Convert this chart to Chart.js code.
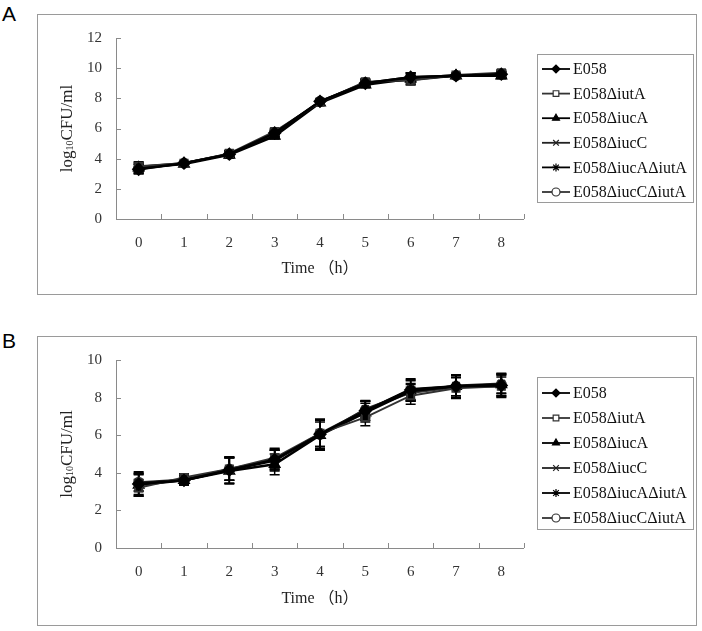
<!DOCTYPE html>
<html>
<head>
<meta charset="utf-8">
<script src="https://cdn.jsdelivr.net/npm/chart.js@4.4.0/dist/chart.umd.min.js"></script>
<style>
  body { margin: 0; background: #fff; width: 702px; height: 631px; position: relative; overflow: hidden; }
  .frame { position: absolute; border: 1px solid #9a9a9a; }
  .frame canvas { position: absolute; left: 0; top: 0; }
  .letter { position: absolute; font-family: "Liberation Sans", Arial, sans-serif; font-size: 21px; color: #000; }
</style>
</head>
<body>
<div class="letter" style="left:2px; top:2px;">A</div>
<div class="frame" style="left:37px; top:14px; width:658px; height:279px;"><canvas id="chartA" width="658" height="279"></canvas></div>
<div class="letter" style="left:2px; top:329px;">B</div>
<div class="frame" style="left:37px; top:336px; width:658px; height:288px;"><canvas id="chartB" width="658" height="288"></canvas></div>
<script>
// time points (h)
const hours = ['0', '1', '2', '3', '4', '5', '6', '7', '8'];
const strains = ['E058', 'E058\u0394iutA', 'E058\u0394iucA', 'E058\u0394iucC', 'E058\u0394iucA\u0394iutA', 'E058\u0394iucC\u0394iutA'];

// panel A, log10 CFU/ml (mean) and SD
const aE058     = [3.3, 3.7, 4.3, 5.7, 7.8, 9.0, 9.4, 9.5, 9.6];
const aIutA     = [3.5, 3.7, 4.35, 5.8, 7.75, 9.1, 9.2, 9.55, 9.7];
const aIucA     = [3.4, 3.65, 4.25, 5.5, 7.7, 8.9, 9.3, 9.5, 9.5];
const aIucC     = [3.3, 3.7, 4.3, 5.6, 7.8, 9.0, 9.35, 9.55, 9.55];
const aIucAIutA = [3.45, 3.7, 4.3, 5.65, 7.75, 9.0, 9.4, 9.5, 9.6];
const aIucCIutA = [3.35, 3.7, 4.3, 5.7, 7.8, 9.05, 9.2, 9.5, 9.6];
const aErr      = [0.3, 0.1, 0.2, 0.2, 0.15, 0.2, 0.3, 0.12, 0.2];

// panel B
const bE058     = [3.4, 3.6, 4.15, 4.7, 6.05, 7.3, 8.4, 8.6, 8.65];
const bIutA     = [3.2, 3.75, 4.2, 4.8, 6.1, 6.95, 8.1, 8.5, 8.6];
const bIucA     = [3.35, 3.6, 4.1, 4.45, 6.0, 7.2, 8.35, 8.6, 8.7];
const bIucC     = [3.45, 3.6, 4.2, 4.7, 6.0, 7.4, 8.3, 8.65, 8.75];
const bIucAIutA = [3.45, 3.6, 4.15, 4.65, 6.05, 7.3, 8.45, 8.6, 8.6];
const bIucCIutA = [3.5, 3.65, 4.2, 4.7, 6.1, 7.35, 8.25, 8.55, 8.7];
const bErr      = [0.6, 0.25, 0.7, 0.55, 0.8, 0.5, 0.55, 0.6, 0.6];
const bErr2     = [0.45, 0.2, 0.6, 0.5, 0.7, 0.45, 0.45, 0.55, 0.5];

const serif = '"Liberation Serif", "Times New Roman", "Noto Sans CJK SC", serif';

// marker look for each strain
const looks = [
    { pointStyle: 'rectRot', radius: 5.5, fill: '#000', line: '#000', width: 2.5 },
    { pointStyle: 'rect', radius: 5, fill: '#000', line: '#333', width: 2 },
    { pointStyle: 'triangle', radius: 5.5, fill: '#000', line: '#000', width: 2.5 },
    { pointStyle: 'crossRot', radius: 5, fill: '#000', line: '#222', width: 2 },
    { pointStyle: 'star', radius: 5, fill: '#000', line: '#000', width: 2.5 },
    { pointStyle: 'circle', radius: 4.5, fill: '#000', line: '#333', width: 2 }
];
// legend shows the open symbols as in the original key
const legendFill = ['#000', '#fff', '#000', '#000', '#000', '#fff'];

function makeSets(seriesList, errList) {
    return seriesList.map((vals, i) => ({
        label: strains[i],
        data: vals,
        errors: errList[i],
        borderColor: looks[i].line,
        borderWidth: looks[i].width,
        pointStyle: looks[i].pointStyle,
        pointRadius: looks[i].radius,
        pointBackgroundColor: looks[i].fill,
        pointBorderColor: looks[i].line,
        pointBorderWidth: 2,
        tension: 0
    }));
}

const decor = {
    id: 'decor',
    beforeDatasetsDraw(chart) {
        const { ctx, chartArea: a, scales: { x, y } } = chart;
        ctx.save();
        // axis lines + inside tick marks
        ctx.strokeStyle = '#8a8a8a';
        ctx.lineWidth = 1;
        ctx.beginPath();
        ctx.moveTo(a.left + 0.5, a.top);
        ctx.lineTo(a.left + 0.5, a.bottom + 0.5);
        ctx.lineTo(a.right, a.bottom + 0.5);
        y.ticks.forEach(t => {
            const py = Math.round(y.getPixelForValue(t.value)) + 0.5;
            ctx.moveTo(a.left, py);
            ctx.lineTo(a.left + 5, py);
        });
        const n = hours.length;
        for (let i = 1; i <= n; i++) {
            const px = Math.round(a.left + i * (a.right - a.left) / n) + 0.5;
            ctx.moveTo(px, a.bottom);
            ctx.lineTo(px, a.bottom - 5);
        }
        ctx.stroke();

        // error bars
        ctx.strokeStyle = '#000';
        ctx.lineWidth = 1.5;
        chart.data.datasets.forEach((ds, di) => {
            const meta = chart.getDatasetMeta(di);
            meta.data.forEach((pt, i) => {
                const m = ds.data[i], e = ds.errors[i];
                const top = y.getPixelForValue(m + e);
                const bot = y.getPixelForValue(m - e);
                ctx.beginPath();
                ctx.moveTo(pt.x, top); ctx.lineTo(pt.x, bot);
                ctx.moveTo(pt.x - 5, top); ctx.lineTo(pt.x + 5, top);
                ctx.moveTo(pt.x - 5, bot); ctx.lineTo(pt.x + 5, bot);
                ctx.stroke();
            });
        });
        ctx.restore();
    },
    afterDraw(chart, args, opts) {
        const { ctx, chartArea: a } = chart;
        ctx.save();
        ctx.fillStyle = '#222';
        // x title
        ctx.font = '16px ' + serif;
        ctx.textAlign = 'center';
        ctx.textBaseline = 'middle';
        ctx.fillText('Time \uFF08h\uFF09', (a.left + a.right) / 2, a.bottom + opts.titleGap);

        // y title with subscript 10
        const big = '17px ' + serif, small = '10px ' + serif;
        ctx.font = big; const w1 = ctx.measureText('log').width; const w3 = ctx.measureText('CFU/ml').width;
        ctx.font = small; const w2 = ctx.measureText('10').width;
        const total = w1 + w2 + w3;
        ctx.translate(opts.yTitleX, (a.top + a.bottom) / 2);
        ctx.rotate(-Math.PI / 2);
        ctx.textAlign = 'left';
        ctx.textBaseline = 'alphabetic';
        let px = -total / 2;
        ctx.font = big; ctx.fillText('log', px, 6); px += w1;
        ctx.font = small; ctx.fillText('10', px, 7); px += w2;
        ctx.font = big; ctx.fillText('CFU/ml', px, 6);
        ctx.setTransform(1, 0, 0, 1, 0, 0);

        // legend
        const L = opts.legend;
        ctx.strokeStyle = '#9a9a9a';
        ctx.lineWidth = 1;
        ctx.strokeRect(L.left + 0.5, L.top + 0.5, L.right - L.left, L.bottom - L.top);
        chart.data.datasets.forEach((ds, i) => {
            const ly = L.first + i * L.step;
            ctx.strokeStyle = ds.borderColor;
            ctx.lineWidth = 1.8;
            ctx.beginPath();
            ctx.moveTo(L.left + 5, ly);
            ctx.lineTo(L.left + 33, ly);
            ctx.stroke();
            ctx.fillStyle = legendFill[i];
            ctx.strokeStyle = ds.pointBorderColor;
            ctx.lineWidth = 1.2;
            Chart.helpers.drawPoint(ctx, { pointStyle: ds.pointStyle, radius: 4, rotation: 0, borderWidth: 1.2 }, L.left + 19, ly);
            ctx.fillStyle = '#111';
            ctx.font = '16px ' + serif;
            ctx.textAlign = 'left';
            ctx.textBaseline = 'middle';
            ctx.fillText(ds.label, L.left + 36, ly + 1);
        });
        ctx.restore();
    }
};

function makeChart(id, sets, yMax, xHeight, opts) {
    return new Chart(document.getElementById(id), {
        type: 'line',
        data: { labels: hours, datasets: sets },
        options: {
            responsive: false,
            animation: false,
            layout: { padding: { top: 22, right: 172, left: 0, bottom: 0 } },
            plugins: { legend: { display: false }, tooltip: { enabled: false }, decor: opts },
            scales: {
                x: {
                    type: 'category',
                    offset: true,
                    grid: { display: false, drawTicks: false },
                    border: { display: false },
                    ticks: { color: '#333', padding: 15, font: { family: serif, size: 15 } },
                    afterFit: s => { s.height = xHeight; }
                },
                y: {
                    min: 0, max: yMax,
                    grid: { display: false, drawTicks: false },
                    border: { display: false },
                    ticks: { stepSize: 2, color: '#333', padding: 14, font: { family: serif, size: 15 } },
                    afterFit: s => { s.width = 78; }
                }
            }
        },
        plugins: [decor]
    });
}

makeChart('chartA',
    makeSets([aE058, aIutA, aIucA, aIucC, aIucAIutA, aIucCIutA], [aErr, aErr, aErr, aErr, aErr, aErr]),
    12, 75,
    { titleGap: 50, yTitleX: 28, legend: { left: 499, top: 39, right: 655, bottom: 187, first: 54, step: 24.6 } });

makeChart('chartB',
    makeSets([bE058, bIutA, bIucA, bIucC, bIucAIutA, bIucCIutA], [bErr, bErr2, bErr, bErr2, bErr, bErr2]),
    10, 77,
    { titleGap: 51, yTitleX: 28, legend: { left: 499, top: 40, right: 655, bottom: 192, first: 56, step: 25 } });
</script>
</body>
</html>
